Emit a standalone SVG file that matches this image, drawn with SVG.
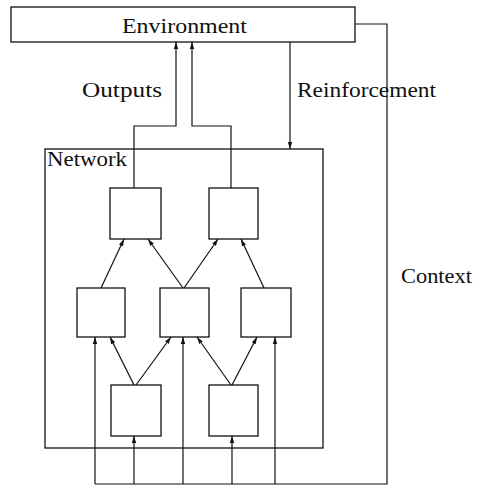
<svg xmlns="http://www.w3.org/2000/svg" width="477" height="485" viewBox="0 0 477 485">
<style>
  .box { fill: #fff; stroke: #111; stroke-width: 1.3; }
  .ln { fill: none; stroke: #111; stroke-width: 1.2; }
  .arr { fill: none; stroke: #111; stroke-width: 1.2; marker-end: url(#ah); }
  text { font-family: "Liberation Serif", "DejaVu Serif", serif; fill: #111; font-size: 22px; }
</style>
<defs>
  <marker id="ah" markerUnits="userSpaceOnUse" markerWidth="8" markerHeight="8" refX="7" refY="4" orient="auto">
    <path d="M0,1.8 L7,4 L0,6.2 Z" fill="#111"/>
  </marker>
</defs>
<rect width="477" height="485" fill="#fff"/>

<g id="network">
  <rect class="box" x="45" y="149" width="278" height="299"/>
  <text x="47" y="166" textLength="80" lengthAdjust="spacingAndGlyphs">Network</text>
</g>

<g id="environment">
  <rect class="box" x="11" y="7" width="344" height="35"/>
  <text x="122" y="33" textLength="125" lengthAdjust="spacingAndGlyphs">Environment</text>
</g>

<g id="labels">
  <text x="82" y="97" textLength="80" lengthAdjust="spacingAndGlyphs">Outputs</text>
  <text x="297" y="97" textLength="139" lengthAdjust="spacingAndGlyphs">Reinforcement</text>
  <text x="401" y="283" textLength="71" lengthAdjust="spacingAndGlyphs">Context</text>
</g>

<g id="out1"><rect class="box" x="110" y="188" width="51" height="51"/></g>
<g id="out2"><rect class="box" x="209" y="188" width="49" height="51"/></g>
<g id="hidA"><rect class="box" x="77" y="288" width="48" height="49"/></g>
<g id="hidB"><rect class="box" x="160" y="288" width="49" height="49"/></g>
<g id="hidC"><rect class="box" x="241" y="288" width="50" height="49"/></g>
<g id="inD"><rect class="box" x="111" y="385" width="50" height="51"/></g>
<g id="inE"><rect class="box" x="209" y="385" width="49" height="51"/></g>

<g id="connectors">
  <path class="arr" d="M134,188 L134,126 L176,126 L176,42"/>
  <path class="arr" d="M231,188 L231,126 L192,126 L192,42"/>
  <path class="arr" d="M290,42 L290,149"/>
  <path class="ln" d="M355,24 L387,24 L387,484 L95,484"/>
  <path class="arr" d="M95,484 L95,337"/>
  <path class="arr" d="M134,484 L134,436"/>
  <path class="arr" d="M183,484 L183,337"/>
  <path class="arr" d="M232,484 L232,436"/>
  <path class="arr" d="M275,484 L275,337"/>
  <path class="arr" d="M101,288 L124,239"/>
  <path class="arr" d="M183,288 L148,239"/>
  <path class="arr" d="M184,288 L218,239"/>
  <path class="arr" d="M264,288 L241,239"/>
  <path class="arr" d="M134,385 L110,337"/>
  <path class="arr" d="M136,385 L171,337"/>
  <path class="arr" d="M231,385 L197,337"/>
  <path class="arr" d="M232,385 L257,337"/>
</g>
</svg>
